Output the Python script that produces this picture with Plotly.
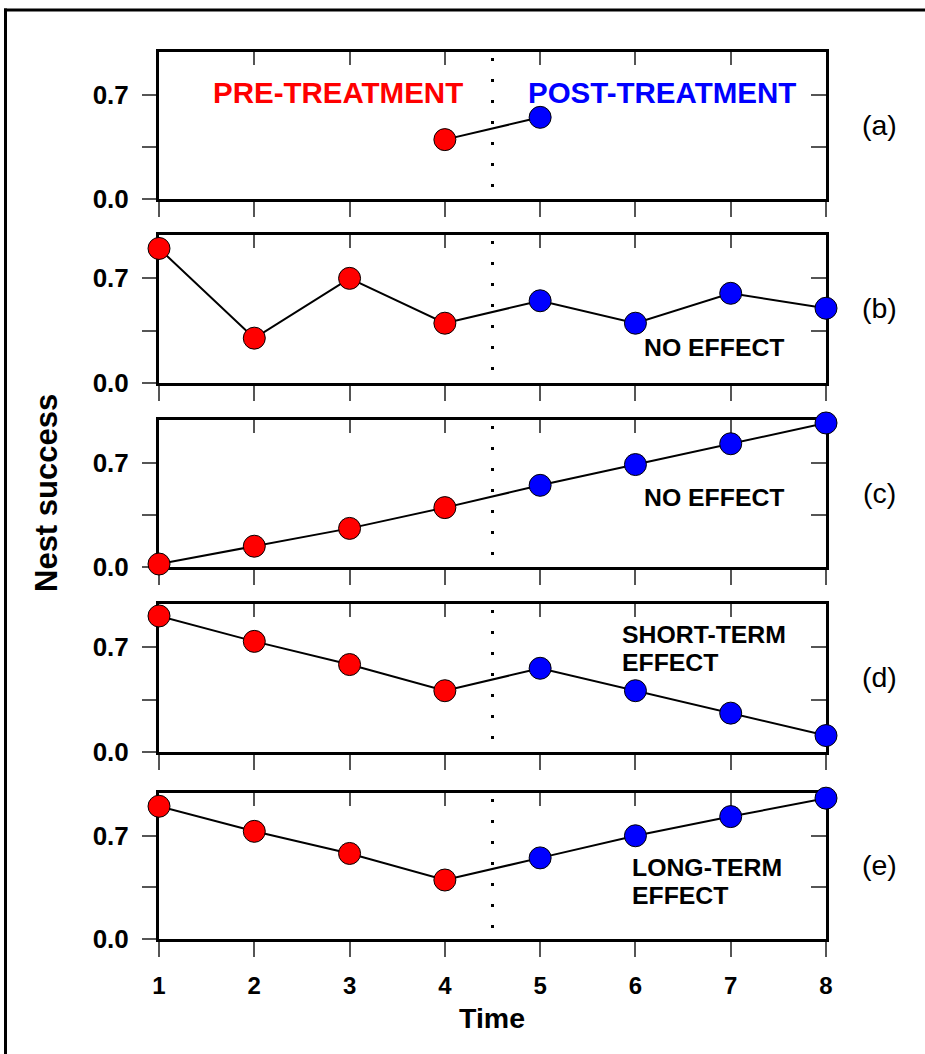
import plotly.graph_objects as go

# ---------------- data ----------------
time = [1, 2, 3, 4, 5, 6, 7, 8]
time_a = [4, 5]
success_a = [0.40, 0.55]
success_b = [0.90, 0.30, 0.70, 0.40, 0.55, 0.40, 0.60, 0.50]
success_c = [0.02, 0.14, 0.26, 0.40, 0.55, 0.69, 0.83, 0.97]
success_d = [0.91, 0.74, 0.585, 0.41, 0.56, 0.41, 0.26, 0.11]
success_e = [0.90, 0.73, 0.58, 0.40, 0.55, 0.70, 0.83, 0.955]
treatment_time = 4.5
panel_labels = ["(a)", "(b)", "(c)", "(d)", "(e)"]
y_tick_vals = [0.0, 0.35, 0.7]
y_tick_text = ["0.0", "", "0.7"]
x_tick_vals = time
x_tick_text = [str(t) for t in time]

panels = [
    (time_a, success_a),
    (time, success_b),
    (time, success_c),
    (time, success_d),
    (time, success_e),
]

PRE_COLOR = "#FF0000"
POST_COLOR = "#0000FF"
FONT = "Liberation Sans, Arial, Helvetica, sans-serif"

# ---------------- layout geometry (pixels) ----------------
W, H = 925, 1054
L, R, T, B = 159, 826, 52, 939
tops = [52, 235, 420, 604, 793]
bottoms = [199, 383, 567, 752, 939]


def px(xp):
    return (xp - L) / (R - L)


def py(yp):
    return (B - yp) / (B - T)


def sfx(n):
    return "" if n == 1 else str(n)


fig = go.Figure()
layout = dict(
    width=W, height=H,
    margin=dict(l=L, r=W - R, t=T, b=H - B, pad=0),
    paper_bgcolor="white", plot_bgcolor="white",
    showlegend=False,
    font=dict(family=FONT, color="black"),
)

shapes = []
annotations = []

for i, (xs, ys) in enumerate(panels, start=1):
    xa, ya = "x" + sfx(i), "y" + sfx(i)
    xo, yo = "x" + sfx(i + 5), "y" + sfx(i + 5)
    colors = [PRE_COLOR if t < treatment_time else POST_COLOR for t in xs]
    fig.add_trace(go.Scatter(
        x=xs, y=ys, mode="lines+markers",
        line=dict(color="black", width=2),
        marker=dict(size=22, color=colors, line=dict(color="black", width=1)),
        cliponaxis=False, xaxis=xa, yaxis=ya, hoverinfo="skip",
    ))
    # empty traces to register overlay axes
    fig.add_trace(go.Scatter(x=[], y=[], xaxis=xo, yaxis=ya, hoverinfo="skip"))
    fig.add_trace(go.Scatter(x=[], y=[], xaxis=xa, yaxis=yo, hoverinfo="skip"))

    dom = [py(bottoms[i - 1]), py(tops[i - 1])]
    layout["xaxis" + sfx(i)] = dict(
        domain=[0, 1], anchor=ya, range=[1, 8],
        tickvals=x_tick_vals, ticktext=x_tick_text,
        ticks="outside", ticklen=15, tickwidth=1.5, tickcolor="#555",
        showticklabels=(i == 5), ticklabelstandoff=8,
        tickfont=dict(size=24, weight="bold", family=FONT),
        showline=True, linewidth=3, linecolor="black", mirror=True,
        showgrid=False, zeroline=False, layer="below traces",
    )
    layout["yaxis" + sfx(i)] = dict(
        domain=dom, anchor=xa, range=[0, 0.99],
        tickvals=y_tick_vals, ticktext=y_tick_text,
        ticks="outside", ticklen=14, tickwidth=1.5, tickcolor="#555",
        ticklabelstandoff=8,
        tickfont=dict(size=26, weight="bold", family=FONT),
        showline=True, linewidth=3, linecolor="black", mirror=True,
        showgrid=False, zeroline=False, layer="below traces",
    )
    layout["xaxis" + sfx(i + 5)] = dict(
        overlaying=xa, side="top", anchor=ya, range=[1, 8],
        tickvals=x_tick_vals, ticks="inside", ticklen=13, tickwidth=1.5,
        tickcolor="#555", showticklabels=False, showline=False,
        showgrid=False, zeroline=False, layer="below traces",
    )
    layout["yaxis" + sfx(i + 5)] = dict(
        overlaying=ya, side="right", anchor=xa, range=[0, 0.99],
        tickvals=y_tick_vals, ticks="inside", ticklen=15, tickwidth=1.5,
        tickcolor="#555", showticklabels=False, showline=False,
        showgrid=False, zeroline=False, layer="below traces",
    )
    # treatment divider
    shapes.append(dict(
        type="line", xref=xa, yref=ya + " domain",
        x0=treatment_time, x1=treatment_time, y0=1, y1=0,
        line=dict(color="black", width=3, dash="0px,6px,3px,12px"),
    ))
    # panel label
    mid = (tops[i - 1] + bottoms[i - 1]) / 2 - 1
    annotations.append(dict(
        text=panel_labels[i - 1], xref="paper", yref="paper",
        x=px(879.5), y=py(mid), showarrow=False,
        xanchor="center", yanchor="middle",
        font=dict(size=28.5, family=FONT, color="black"),
    ))

# treatment phase labels (panel a)
annotations.append(dict(text="PRE-TREATMENT", xref="x", yref="y", x=2.88, y=0.72,
                        showarrow=False, xanchor="center", yanchor="middle",
                        font=dict(size=29.5, weight="bold", family=FONT, color=PRE_COLOR)))
annotations.append(dict(text="POST-TREATMENT", xref="x", yref="y", x=6.28, y=0.72,
                        showarrow=False, xanchor="center", yanchor="middle",
                        font=dict(size=29.5, weight="bold", family=FONT, color=POST_COLOR)))

effect_font = dict(size=24.8, weight="bold", family=FONT, color="black")
annotations.append(dict(text="NO EFFECT", xref="x2", yref="y2", x=6.83, y=0.236,
                        showarrow=False, xanchor="center", yanchor="middle", font=effect_font))
annotations.append(dict(text="NO EFFECT", xref="x3", yref="y3", x=6.83, y=0.47,
                        showarrow=False, xanchor="center", yanchor="middle", font=effect_font))
annotations.append(dict(text="SHORT-TERM", xref="x4", yref="y4", x=5.84, y=0.69,
                        yshift=14, showarrow=False, xanchor="left", yanchor="middle", font=effect_font))
annotations.append(dict(text="EFFECT", xref="x4", yref="y4", x=5.84, y=0.69,
                        yshift=-14, showarrow=False, xanchor="left", yanchor="middle", font=effect_font))
annotations.append(dict(text="LONG-TERM", xref="x5", yref="y5", x=5.94, y=0.39,
                        yshift=14, showarrow=False, xanchor="left", yanchor="middle", font=effect_font))
annotations.append(dict(text="EFFECT", xref="x5", yref="y5", x=5.94, y=0.39,
                        yshift=-14, showarrow=False, xanchor="left", yanchor="middle", font=effect_font))

# axis titles
annotations.append(dict(text="Time", xref="paper", yref="paper", x=px(492), y=py(1018),
                        showarrow=False, xanchor="center", yanchor="middle",
                        font=dict(size=28.5, weight="bold", family=FONT, color="black")))
annotations.append(dict(text="Nest success", xref="paper", yref="paper", x=px(46), y=py(493),
                        showarrow=False, xanchor="center", yanchor="middle", textangle=-90,
                        font=dict(size=31, weight="bold", family=FONT, color="black")))

# outer frame (top and left edges; the rest runs off the page)
shapes.append(dict(type="line", xref="paper", yref="paper",
                   x0=px(4), x1=px(925), y0=py(10), y1=py(10),
                   line=dict(color="black", width=3)))
shapes.append(dict(type="line", xref="paper", yref="paper",
                   x0=px(5.5), x1=px(5.5), y0=py(8.5), y1=py(1054),
                   line=dict(color="black", width=3)))

layout["shapes"] = shapes
layout["annotations"] = annotations
fig.update_layout(**layout)
fig.write_html(
    "out.html",
    config={"displayModeBar": False},
    post_script=(
        "document.documentElement.style.margin='0';"
        "document.documentElement.style.overflow='hidden';"
        "document.body.style.margin='0';document.body.style.overflow='hidden';"
    ),
)
